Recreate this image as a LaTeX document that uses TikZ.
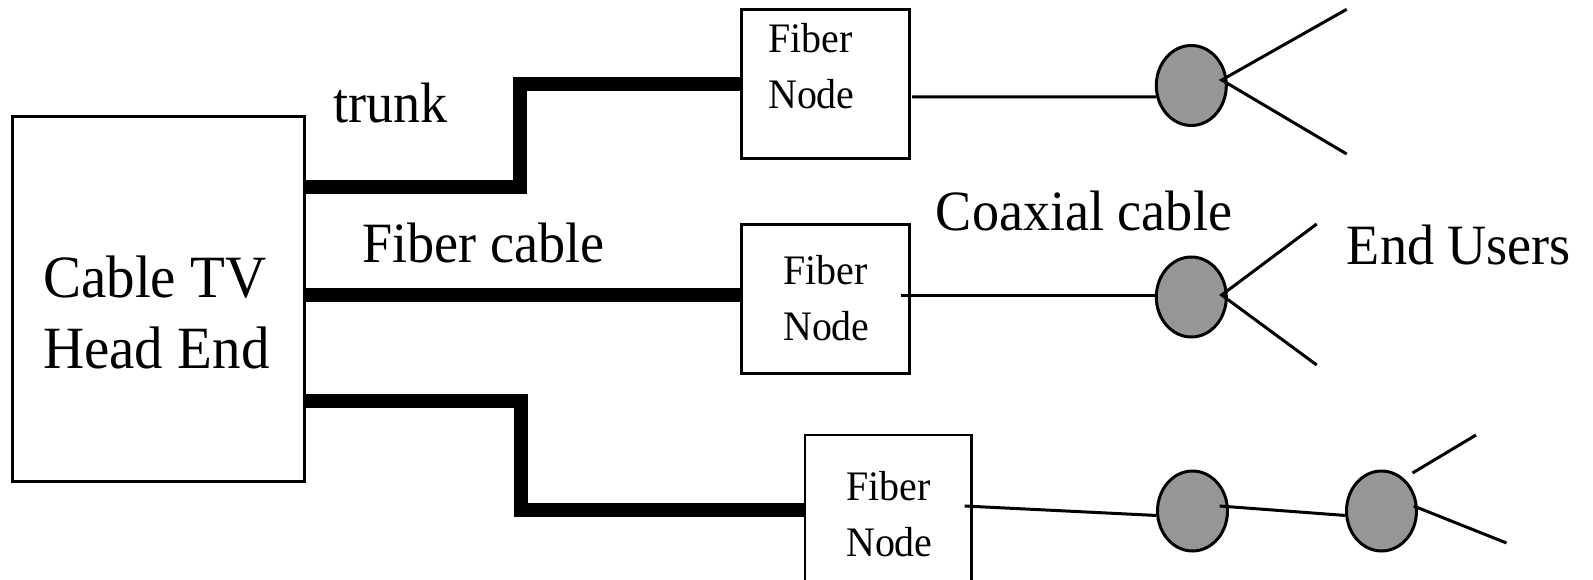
\documentclass[tikz,border=0pt]{standalone}
\usepackage{fontspec}
\setmainfont{Liberation Serif}[FakeStretch=0.95]
\usetikzlibrary{shapes.geometric}
\definecolor{hubgray}{RGB}{150,150,150}
\begin{document}
\begin{tikzpicture}[x=1pt,y=-1pt,
  boxed/.style={draw,line width=2.7pt,inner sep=0pt,rectangle},
  fnbox/.style={boxed,minimum width=168pt,minimum height=149pt},
  hub/.style={draw,ellipse,fill=hubgray,line width=3pt,minimum width=70pt,minimum height=80pt,inner sep=0pt},
  fiber/.style={line width=14pt},
  coax/.style={line width=3pt},
  biglbl/.style={inner sep=0pt,anchor=base west,font=\fontsize{57}{67}\selectfont},
  headlbl/.style={inner sep=0pt,anchor=base west,align=left,font=\fontsize{60}{71}\selectfont},
  smalllbl/.style={inner sep=0pt,anchor=base west,align=left,font=\fontsize{42}{56}\selectfont}]
\path[use as bounding box] (0,0) rectangle (1593,580);

% head end
\node[boxed,minimum width=292.4pt,minimum height=365pt] (head) at (158.6,299.2) {};
\node[headlbl] (headt) at (43,368) {Cable TV\\Head End};

% fiber nodes
\node[fnbox] (fn1) at (825.2,83.8) {};
\node[fnbox] (fn2) at (825.2,298.7) {};
\node[fnbox,minimum width=166.5pt] (fn3) at (888.3,509.5) {};
\node[smalllbl] (fn1t) at (768,109) {Fiber\\Node};
\node[smalllbl] (fn2t) at (783,340) {Fiber\\Node};
\node[smalllbl] (fn3t) at (846,556) {Fiber\\Node};

% fiber (trunk) cables
\coordinate (ta) at (520,187);
\coordinate (tm) at (0,295);
\coordinate (tc) at (521,401);
\draw[fiber] (head.east |- ta) -- (ta) |- (fn1.west);
\draw[fiber] (head.east |- tm) -- (fn2.west |- tm);
\draw[fiber] (head.east |- tc) -- (tc) |- (fn3.west);

% hubs
\node[hub] (c1) at (1191.3,85.5) {};
\node[hub] (c2) at (1191.3,297) {};
\node[hub] (c3) at (1192.5,511) {};
\node[hub] (c4) at (1381.5,511) {};

% coax lines
\coordinate (k1) at (912,97);
\coordinate (k2) at (901,295);
\coordinate (k3) at (964.6,506);
\draw[coax] (k1) -- (c1.198);
\draw[coax] (k2) -- (c2.west |- k2);
\draw[coax] (k3) -- (c3.187);
\coordinate (k4) at (1219.6,506);
\draw[coax] (k4) -- (c4.187);

% end user drops
\coordinate (v1) at (1221.7,80);
\coordinate (u1a) at (1346.7,9.3);
\coordinate (u1b) at (1346.7,154);
\draw[coax] (u1a) -- (v1) -- (u1b);
\coordinate (v2) at (1221.7,295);
\coordinate (u2a) at (1316.7,224);
\coordinate (u2b) at (1316.7,365);
\draw[coax] (u2a) -- (v2) -- (u2b);
\coordinate (v4) at (1413.6,506);
\coordinate (u4b) at (1506.5,543);
\draw[coax] (v4) -- (u4b);
\coordinate (w4a) at (1412.5,473);
\coordinate (w4b) at (1476,435);
\draw[coax] (w4a) -- (w4b);

% labels
\node[biglbl] (trunk) at (333,123) {trunk};
\node[biglbl] (fcable) at (362,262) {Fiber cable};
\node[biglbl] (ccable) at (935.7,230) {Coaxial cable};
\node[biglbl] (users) at (1346.7,264) {End Users};
\end{tikzpicture}
\end{document}
